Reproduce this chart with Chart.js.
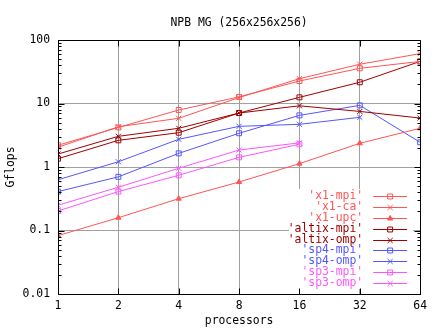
<!DOCTYPE html>
<html>
<head>
<meta charset="utf-8">
<script src="https://cdn.jsdelivr.net/npm/chart.js@4/dist/chart.umd.min.js"></script>
<style>
  html, body { margin: 0; padding: 0; background: #ffffff; }
  canvas { display: block; }
</style>
</head>
<body>
<canvas id="chart" width="432" height="328"></canvas>
<script>
// Data (Gflops per processor count)
const processors = [1, 2, 4, 8, 16, 32, 64];
const yTickValues = [0.01, 0.1, 1, 10, 100];
const yTickLabels = ['0.01', '0.1', '1', '10', '100'];

const x1Mpi = [2.2, 4.2, 7.9, 12.7, 22.6, 35.8, 46];
const x1Ca = [2.05, 4.3, 5.85, 12.4, 24.6, 41.5, 61];
const x1Upc = [0.083, 0.159, 0.317, 0.58, 1.13, 2.36, 4.07];
const altixMpi = [1.35, 2.63, 3.47, 7.08, 12.5, 21.6, 46];
const altixOmp = [1.6, 3.04, 4.07, 7.08, 9.2, 7.5, 5.9];
const sp4Mpi = [0.41, 0.70, 1.64, 3.4, 6.5, 9.35, 2.45];
const sp4Omp = [0.63, 1.21, 2.73, 4.37, 4.7, 6.06];
const sp3Mpi = [0.203, 0.41, 0.74, 1.42, 2.28];
const sp3Omp = [0.25, 0.48, 0.955, 1.85, 2.4];

const seriesNames = ["'x1-mpi'", "'x1-ca'", "'x1-upc'", "'altix-mpi'", "'altix-omp'",
                     "'sp4-mpi'", "'sp4-omp'", "'sp3-mpi'", "'sp3-omp'"];
const seriesValues = [x1Mpi, x1Ca, x1Upc, altixMpi, altixOmp, sp4Mpi, sp4Omp, sp3Mpi, sp3Omp];

const RED = '#ff5555';
const DARKRED = '#a00000';
const BLUE = '#5555ff';
const MAGENTA = '#ff55ff';
const seriesColors = [RED, RED, RED, DARKRED, DARKRED, BLUE, BLUE, MAGENTA, MAGENTA];
const seriesMarkers = ['rect', 'crossRot', 'triangle', 'rect', 'crossRot', 'rect', 'crossRot', 'rect', 'crossRot'];

const FONT = "'DejaVu Sans Mono', monospace";
const GRID = '#a0a0a0';

const markerRadius = (style) => style === 'rect' ? 3.5 : style === 'triangle' ? 3 : 3.6;

const datasets = seriesValues.map((vals, i) => ({
    label: seriesNames[i],
    data: vals.map((v, j) => ({ x: processors[j], y: v })),
    borderColor: seriesColors[i],
    backgroundColor: seriesMarkers[i] === 'triangle' ? seriesColors[i] : 'rgba(0,0,0,0)',
    borderWidth: 1,
    pointStyle: seriesMarkers[i],
    pointRadius: markerRadius(seriesMarkers[i]),
    pointBorderWidth: 1,
    pointBorderColor: seriesColors[i],
    pointBackgroundColor: seriesMarkers[i] === 'triangle' ? seriesColors[i] : 'rgba(0,0,0,0)',
    tension: 0
}));

// minor ticks for each decade (2..9)
const yAllTicks = [];
yTickValues.forEach((d, i) => {
    yAllTicks.push(d);
    if (i < yTickValues.length - 1) {
        for (let k = 2; k <= 9; k++) yAllTicks.push(+(d * k).toPrecision(3));
    }
});

const drawMarker = (ctx, style, x, y, r) => {
    ctx.beginPath();
    if (style === 'rect') {
        const s = r * Math.SQRT1_2;
        ctx.rect(x - s, y - s, 2 * s, 2 * s);
        ctx.stroke();
    } else if (style === 'crossRot') {
        const s = r * Math.SQRT1_2;
        ctx.moveTo(x - s, y - s); ctx.lineTo(x + s, y + s);
        ctx.moveTo(x + s, y - s); ctx.lineTo(x - s, y + s);
        ctx.stroke();
    } else {
        ctx.moveTo(x, y - r);
        ctx.lineTo(x + r * 0.866, y + r * 0.5);
        ctx.lineTo(x - r * 0.866, y + r * 0.5);
        ctx.closePath();
        ctx.fill();
        ctx.stroke();
    }
};

// Key box inside the plot, bottom right, sample on the right of the text
const keyPlugin = {
    id: 'key',
    afterDatasetsDraw(chart) {
        const ctx = chart.ctx;
        const area = chart.chartArea;
        ctx.save();
        ctx.fillStyle = '#ffffff';
        ctx.fillRect(area.right - 131, area.bottom - 105, 124, 100);
        ctx.font = '11.4px ' + FONT;
        ctx.textAlign = 'right';
        ctx.textBaseline = 'middle';
        ctx.lineWidth = 1;
        seriesNames.forEach((name, i) => {
            const y = Math.round(area.bottom - 98.3 + i * 10.95) + 0.5;
            ctx.fillStyle = seriesColors[i];
            ctx.strokeStyle = seriesColors[i];
            ctx.fillText(name, area.right - 57, y);
            ctx.beginPath();
            ctx.moveTo(area.right - 47, y);
            ctx.lineTo(area.right - 13, y);
            ctx.stroke();
            drawMarker(ctx, seriesMarkers[i], area.right - 30, y, markerRadius(seriesMarkers[i]));
        });
        ctx.restore();
    }
};

// Border plus inward tick marks on all four sides
const framePlugin = {
    id: 'frame',
    afterDraw(chart) {
        const ctx = chart.ctx;
        const { left, right, top, bottom } = chart.chartArea;
        const L = Math.round(left) + 0.5, R = Math.round(right) + 0.5;
        const T = Math.round(top) + 0.5, B = Math.round(bottom) + 0.5;
        ctx.save();
        ctx.strokeStyle = '#000000';
        ctx.lineWidth = 1;
        ctx.beginPath();
        chart.scales.y.ticks.forEach(t => {
            const py = Math.round(chart.scales.y.getPixelForValue(t.value)) + 0.5;
            const len = yTickValues.includes(t.value) ? 6 : 3;
            ctx.moveTo(L, py); ctx.lineTo(L + len, py);
            ctx.moveTo(R, py); ctx.lineTo(R - len, py);
        });
        chart.scales.x.ticks.forEach(t => {
            const px = Math.round(chart.scales.x.getPixelForValue(t.value)) + 0.5;
            ctx.moveTo(px, T); ctx.lineTo(px, T + 6);
            ctx.moveTo(px, B); ctx.lineTo(px, B - 6);
        });
        ctx.stroke();
        ctx.strokeRect(L, T, R - L, B - T);
        ctx.restore();
    }
};

Chart.defaults.font.family = FONT;
Chart.defaults.font.size = 11.4;
Chart.defaults.color = '#000000';

new Chart(document.getElementById('chart'), {
    type: 'line',
    data: { datasets },
    plugins: [keyPlugin, framePlugin],
    options: {
        responsive: false,
        animation: false,
        devicePixelRatio: 1,
        layout: { padding: { top: 0, right: 10, bottom: 0, left: 0 } },
        plugins: {
            legend: { display: false },
            tooltip: { enabled: false },
            title: {
                display: true,
                text: 'NPB MG (256x256x256)',
                fullSize: false,
                color: '#000000',
                font: { family: FONT, size: 11.4, weight: 'normal' },
                padding: { top: 16, bottom: 10.32 }
            }
        },
        scales: {
            x: {
                type: 'logarithmic',
                min: 1,
                max: 64,
                afterBuildTicks: s => { s.ticks = processors.map(v => ({ value: v })); },
                afterFit: s => { s.height = 34; },
                ticks: {
                    autoSkip: false,
                    maxRotation: 0,
                    padding: 5,
                    color: '#000000',
                    callback: v => String(v)
                },
                grid: { color: GRID, lineWidth: 1, drawTicks: false },
                border: { display: false },
                title: {
                    display: true,
                    text: 'processors',
                    color: '#000000',
                    padding: { top: 0, bottom: 0 }
                }
            },
            y: {
                type: 'logarithmic',
                min: 0.01,
                max: 100,
                afterBuildTicks: s => { s.ticks = yAllTicks.map(v => ({ value: v })); },
                afterFit: s => { s.width = 58; },
                ticks: {
                    autoSkip: false,
                    padding: 8,
                    color: '#000000',
                    callback: v => {
                        const i = yTickValues.indexOf(v);
                        return i >= 0 ? yTickLabels[i] : '';
                    }
                },
                grid: {
                    drawTicks: false,
                    lineWidth: 1,
                    color: c => (c.tick && yTickValues.includes(c.tick.value)) ? GRID : 'rgba(0,0,0,0)'
                },
                border: { display: false },
                title: {
                    display: true,
                    text: 'Gflops',
                    color: '#000000',
                    padding: { top: 4, bottom: 0 }
                }
            }
        }
    }
});
</script>
</body>
</html>
